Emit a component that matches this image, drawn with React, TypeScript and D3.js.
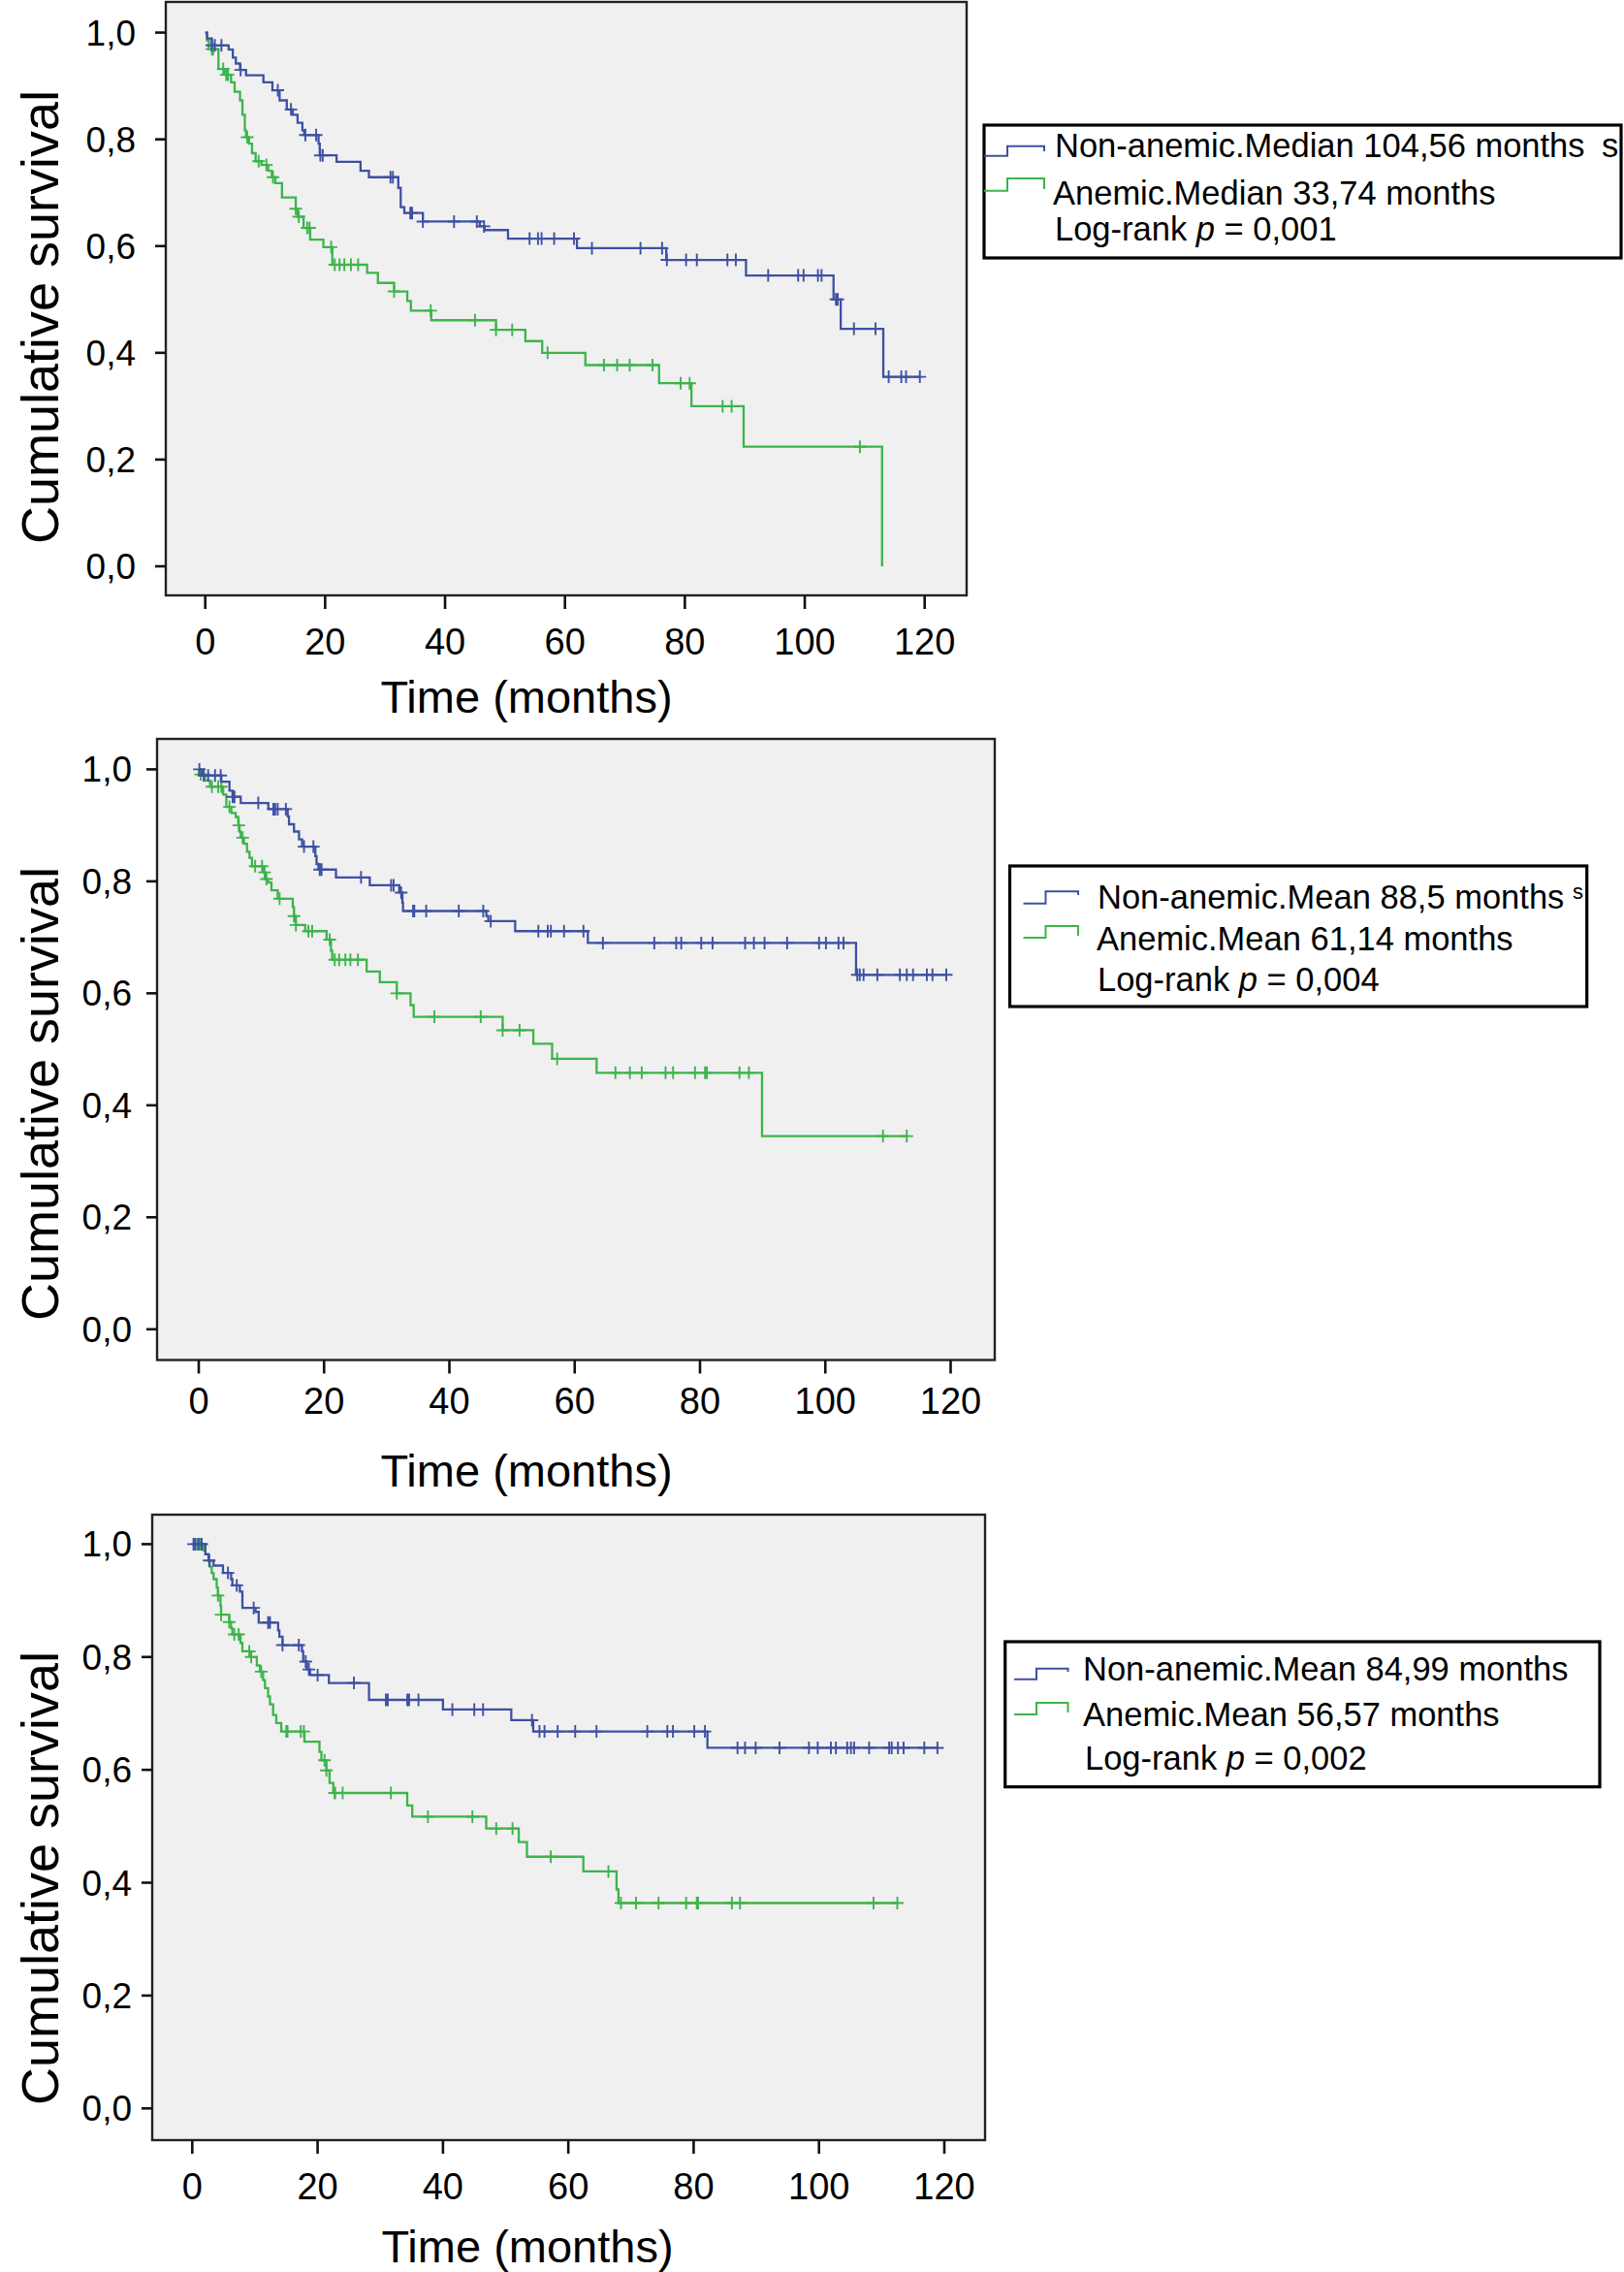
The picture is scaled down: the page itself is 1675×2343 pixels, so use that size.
import React from 'react';
import * as d3 from 'd3';

// ---------- shared axis data ----------
const xTicks = [0, 20, 40, 60, 80, 100, 120];
const yTicks = [0, 0.2, 0.4, 0.6, 0.8, 1.0];
const yTickLabels = ['0,0', '0,2', '0,4', '0,6', '0,8', '1,0'];
const xTitle = 'Time (months)';
const yTitle = 'Cumulative survival';

// ---------- panel 1 ----------
const p1BlueT = [0.3, 1.1, 3.9, 4.6, 5.1, 5.8, 6.8, 9.7, 11.2, 12.4, 13.6, 14.6, 15.4, 16.2, 16.5, 18.9, 19.1, 21.9, 25.9, 27.3, 32.2, 32.6, 33.2, 36.3, 45.8, 46.6, 50.5, 62.0, 76.9, 90.2, 104.8, 106.0, 113.1];
const p1BlueS = [0.989, 0.976, 0.968, 0.953, 0.942, 0.930, 0.920, 0.907, 0.892, 0.873, 0.856, 0.846, 0.831, 0.817, 0.808, 0.792, 0.770, 0.758, 0.741, 0.729, 0.709, 0.673, 0.662, 0.646, 0.637, 0.630, 0.614, 0.596, 0.574, 0.545, 0.500, 0.445, 0.355];
const p1BlueC = [1.1, 1.6, 2.7, 5.9, 12.1, 14.3, 16.7, 18.5, 19.2, 19.6, 30.9, 31.3, 34.2, 34.5, 36.3, 41.5, 45.3, 46.5, 54.1, 55.5, 56.1, 58.2, 61.5, 64.5, 72.6, 76.2, 77.0, 80.2, 82.0, 87.1, 88.5, 93.9, 98.9, 99.8, 102.2, 102.8, 105.2, 105.5, 108.2, 111.8, 114.0, 116.1, 116.9, 119.2];
const p1GreenT = [0.3, 0.6, 2.2, 3.2, 4.3, 4.9, 5.8, 6.2, 6.6, 6.8, 7.3, 7.8, 8.4, 9.4, 10.5, 11.1, 11.7, 12.8, 15.1, 15.4, 16.4, 17.5, 19.7, 21.2, 27.0, 28.8, 31.5, 33.7, 34.3, 37.7, 48.5, 53.4, 56.2, 63.4, 75.7, 81.1, 89.8, 112.9];
const p1GreenS = [0.985, 0.969, 0.932, 0.921, 0.907, 0.889, 0.873, 0.846, 0.817, 0.804, 0.792, 0.774, 0.759, 0.752, 0.741, 0.729, 0.718, 0.691, 0.670, 0.655, 0.634, 0.612, 0.598, 0.565, 0.550, 0.531, 0.515, 0.497, 0.479, 0.461, 0.443, 0.422, 0.400, 0.377, 0.343, 0.300, 0.224, 0.0];
const p1GreenC = [1.1, 1.3, 3.0, 3.5, 3.8, 7.0, 8.9, 10.2, 11.3, 15.1, 15.6, 17.0, 17.4, 21.0, 21.6, 22.4, 23.2, 24.3, 25.5, 31.5, 37.6, 45.0, 48.5, 51.2, 57.1, 66.5, 68.7, 70.8, 74.6, 79.3, 80.8, 86.3, 87.8, 109.2];
const p1Legend = ['Non-anemic.Median 104,56 months', 'Anemic.Median 33,74 months', '0,001'];

// ---------- panel 2 ----------
const p2BlueT = [0.5, 3.6, 4.9, 5.4, 6.7, 11.1, 14.2, 14.4, 15.2, 16.0, 16.5, 18.6, 18.8, 19.1, 21.9, 27.3, 32.0, 32.5, 32.6, 45.9, 46.2, 50.5, 62.1, 104.9];
const p2BlueS = [0.989, 0.978, 0.962, 0.951, 0.940, 0.929, 0.916, 0.902, 0.889, 0.875, 0.862, 0.845, 0.831, 0.821, 0.807, 0.793, 0.780, 0.762, 0.747, 0.738, 0.729, 0.711, 0.690, 0.633];
const p2BlueC = [0.1, 0.8, 1.5, 2.6, 3.5, 5.4, 5.7, 9.5, 11.9, 12.2, 12.6, 13.9, 16.8, 18.3, 19.3, 19.6, 25.9, 30.7, 31.1, 32.3, 34.2, 34.4, 36.3, 41.5, 45.4, 46.6, 54.2, 55.7, 56.2, 58.3, 61.4, 64.5, 72.7, 76.2, 77.0, 80.2, 82.0, 87.2, 88.6, 90.3, 93.9, 99.0, 100.1, 102.1, 102.9, 105.1, 105.5, 106.1, 108.3, 111.9, 113.0, 114.0, 116.2, 117.1, 119.3];
const p2GreenT = [0.05, 1.0, 1.8, 3.9, 4.4, 5.2, 5.9, 6.3, 6.5, 6.7, 7.2, 7.7, 8.1, 8.5, 10.3, 10.6, 11.1, 11.6, 12.6, 15.0, 15.2, 15.5, 17.0, 20.4, 21.1, 21.3, 26.8, 28.9, 31.6, 33.8, 34.3, 48.5, 53.4, 56.4, 63.5, 89.9];
const p2GreenS = [0.991, 0.980, 0.969, 0.955, 0.933, 0.922, 0.915, 0.900, 0.889, 0.878, 0.867, 0.853, 0.842, 0.827, 0.816, 0.804, 0.798, 0.784, 0.769, 0.754, 0.738, 0.722, 0.711, 0.696, 0.676, 0.660, 0.639, 0.620, 0.600, 0.579, 0.558, 0.534, 0.510, 0.483, 0.458, 0.345];
const p2GreenC = [0.3, 0.8, 2.1, 3.1, 3.6, 4.9, 6.4, 7.0, 9.0, 10.1, 10.5, 10.8, 12.9, 15.2, 15.5, 17.5, 18.1, 20.9, 21.7, 22.4, 23.4, 24.2, 25.4, 31.6, 37.6, 45.0, 48.5, 51.2, 57.2, 66.5, 68.8, 70.7, 74.5, 75.7, 79.2, 80.8, 81.1, 86.3, 87.8, 109.2, 113.0];
const p2Legend = ['Non-anemic.Mean 88,5 months', 'Anemic.Mean 61,14 months', '0,004'];

// ---------- panel 3 ----------
const p3BlueT = [2.1, 2.6, 3.4, 4.9, 6.2, 6.4, 7.6, 8.0, 10.1, 10.6, 13.7, 13.9, 14.4, 17.5, 17.7, 18.3, 18.8, 21.8, 28.2, 40.0, 50.9, 54.4, 82.2];
const p3BlueS = [0.982, 0.971, 0.962, 0.949, 0.938, 0.927, 0.916, 0.887, 0.880, 0.861, 0.847, 0.836, 0.821, 0.810, 0.792, 0.778, 0.768, 0.754, 0.724, 0.707, 0.688, 0.668, 0.639];
const p3BlueC = [0.2, 0.5, 1.0, 1.5, 2.7, 5.7, 7.1, 9.8, 12.1, 12.4, 14.4, 17.0, 18.1, 18.6, 20.0, 25.8, 30.9, 31.2, 34.3, 34.6, 36.1, 41.5, 45.0, 46.4, 54.2, 55.4, 56.2, 58.3, 61.1, 64.5, 72.6, 75.8, 76.7, 80.1, 81.8, 87.0, 88.2, 89.9, 93.7, 98.4, 99.8, 101.9, 102.7, 104.5, 105.1, 105.6, 108.0, 111.2, 111.6, 112.6, 113.5, 116.8, 118.9];
const p3GreenT = [1.8, 2.1, 2.6, 2.8, 3.1, 3.4, 3.9, 4.1, 4.5, 4.6, 5.9, 6.2, 6.4, 7.7, 8.0, 9.3, 10.3, 10.8, 11.3, 11.6, 12.1, 12.4, 12.9, 13.4, 14.2, 17.9, 20.3, 20.6, 21.4, 21.9, 22.5, 34.3, 35.1, 46.9, 52.1, 53.4, 62.4, 67.7, 68.0];
const p3GreenS = [0.989, 0.982, 0.971, 0.960, 0.949, 0.938, 0.923, 0.909, 0.891, 0.875, 0.862, 0.851, 0.840, 0.825, 0.810, 0.800, 0.785, 0.774, 0.759, 0.745, 0.730, 0.716, 0.697, 0.683, 0.668, 0.650, 0.632, 0.617, 0.599, 0.577, 0.559, 0.537, 0.517, 0.496, 0.472, 0.446, 0.420, 0.388, 0.364];
const p3GreenC = [0.8, 1.0, 1.3, 1.5, 4.1, 4.6, 5.9, 6.7, 7.4, 9.1, 9.4, 11.0, 15.0, 15.2, 17.3, 17.8, 21.1, 21.4, 22.7, 22.8, 24.0, 31.7, 37.6, 44.7, 48.5, 51.1, 57.2, 66.4, 68.4, 70.8, 74.4, 78.8, 80.5, 80.7, 86.1, 87.4, 108.7, 112.5];
const p3Legend = ['Non-anemic.Mean 84,99 months', 'Anemic.Mean 56,57 months', '0,002'];

// ---------- styling / layout ----------
const BLUE = '#3e50a2';
const GREEN = '#3cb44b';
const FONT = '"Liberation Sans", Arial, Helvetica, sans-serif';

type Layout = {
  l: number; t: number; r: number; b: number;
  x0: number; x120: number; yOne: number; yZero: number;
  yLabRight: number; xLabBase: number; xTitleX: number; xTitleBase: number; yTitleX: number; yTitleY: number;
  box: [number, number, number, number];
  textX: [number, number, number];
  base: [number, number, number];
  symX: [number, number, number];
  blueSym: [number, number, number];
  greenSym: [number, number, number];
};

const layouts: Layout[] = [
  {
    l: 171, t: 2, r: 997, b: 614, x0: 211.7, x120: 953.7, yOne: 33.6, yZero: 584,
    yLabRight: 140, xLabBase: 675, xTitleX: 543, xTitleBase: 735, yTitleX: 60, yTitleY: 327,
    box: [1015, 129, 1672, 266], textX: [1088, 1086, 1088], base: [162, 211, 248],
    symX: [1015, 1039, 1077], blueSym: [160.7, 150.7, 156], greenSym: [196.7, 184, 195],
  },
  {
    l: 162, t: 762, r: 1026, b: 1402.5, x0: 205, x120: 980.5, yOne: 793.4, yZero: 1370.8,
    yLabRight: 136, xLabBase: 1458, xTitleX: 543, xTitleBase: 1533, yTitleX: 60, yTitleY: 1128,
    box: [1041.5, 893, 1636.7, 1038], textX: [1132, 1131, 1132], base: [937, 980, 1022],
    symX: [1055.5, 1078.5, 1112], blueSym: [931.7, 919.3, 923], greenSym: [967, 955, 965],
  },
  {
    l: 157, t: 1562, r: 1016, b: 2207, x0: 198.3, x120: 974, yOne: 1592.4, yZero: 2174.3,
    yLabRight: 136, xLabBase: 2268, xTitleX: 544, xTitleBase: 2333, yTitleX: 60, yTitleY: 1937,
    box: [1036.7, 1693, 1650, 1842.7], textX: [1117, 1117, 1119], base: [1733, 1780, 1825],
    symX: [1046, 1069, 1101.5], blueSym: [1731.7, 1720.7, 1724], greenSym: [1768, 1756, 1766],
  },
];

type Series = { T: number[]; S: number[]; C: number[] };
const panels: { blue: Series; green: Series; legend: string[] }[] = [
  { blue: { T: p1BlueT, S: p1BlueS, C: p1BlueC }, green: { T: p1GreenT, S: p1GreenS, C: p1GreenC }, legend: p1Legend },
  { blue: { T: p2BlueT, S: p2BlueS, C: p2BlueC }, green: { T: p2GreenT, S: p2GreenS, C: p2GreenC }, legend: p2Legend },
  { blue: { T: p3BlueT, S: p3BlueS, C: p3BlueC }, green: { T: p3GreenT, S: p3GreenS, C: p3GreenC }, legend: p3Legend },
];

function survAt(s: Series, t: number) {
  let v = 1;
  for (let i = 0; i < s.T.length; i++) if (s.T[i] <= t) v = s.S[i];
  return v;
}

function stepPoints(s: Series): [number, number][] {
  const pts: [number, number][] = [[0, 1]];
  s.T.forEach((t, i) => pts.push([t, s.S[i]]));
  const lastT = s.T[s.T.length - 1];
  const lastC = s.C[s.C.length - 1];
  if (lastC > lastT) pts.push([lastC, s.S[s.S.length - 1]]);
  return pts;
}

function Curve({ s, color, x, y }: { s: Series; color: string; x: d3.ScaleLinear<number, number>; y: d3.ScaleLinear<number, number> }) {
  const line = d3.line<[number, number]>().x(d => x(d[0])).y(d => y(d[1])).curve(d3.curveStepAfter);
  const h = 6.5;
  const marks = s.C.map(c => {
    const cx = x(c);
    const cy = y(survAt(s, c));
    return `M${cx},${cy - h}V${cy + h}M${cx - h},${cy}H${cx + h}`;
  }).join('');
  return (
    <g>
      <path d={line(stepPoints(s)) || ''} fill="none" stroke={color} strokeWidth={2.3} />
      <path d={marks} fill="none" stroke={color} strokeWidth={1.9} />
    </g>
  );
}

function Panel({ L, p }: { L: Layout; p: (typeof panels)[number] }) {
  const x = d3.scaleLinear().domain([0, 120]).range([L.x0, L.x120]);
  const y = d3.scaleLinear().domain([0, 1]).range([L.yZero, L.yOne]);
  const [bx0, by0, bx1, by1] = L.box;
  const sym = (ys: [number, number, number]) =>
    `M${L.symX[0]},${ys[0]}H${L.symX[1]}V${ys[1]}H${L.symX[2]}V${ys[2]}`;
  return (
    <g fontFamily={FONT} fill="#000">
      <rect x={L.l} y={L.t} width={L.r - L.l} height={L.b - L.t} fill="#f0f0f0" stroke="#222" strokeWidth={2.4} />
      {xTicks.map(v => (
        <g key={'x' + v}>
          <line x1={x(v)} x2={x(v)} y1={L.b} y2={L.b + 14} stroke="#111" strokeWidth={2.6} />
          <text x={x(v)} y={L.xLabBase} fontSize={38} textAnchor="middle">{v}</text>
        </g>
      ))}
      {yTicks.map((v, i) => (
        <g key={'y' + v}>
          <line x1={L.l - 11} x2={L.l} y1={y(v)} y2={y(v)} stroke="#111" strokeWidth={2.6} />
          <text x={L.yLabRight} y={y(v) + 13} fontSize={37} textAnchor="end">{yTickLabels[i]}</text>
        </g>
      ))}
      <text x={L.xTitleX} y={L.xTitleBase} fontSize={47} textAnchor="middle">{xTitle}</text>
      <text transform={`translate(${L.yTitleX},${L.yTitleY}) rotate(-90)`} fontSize={54} textAnchor="middle">{yTitle}</text>
      <Curve s={p.green} color={GREEN} x={x} y={y} />
      <Curve s={p.blue} color={BLUE} x={x} y={y} />
      <rect x={bx0} y={by0} width={bx1 - bx0} height={by1 - by0} fill="#fff" stroke="#000" strokeWidth={3.2} />
      <path d={sym(L.blueSym)} fill="none" stroke={BLUE} strokeWidth={2} />
      <path d={sym(L.greenSym)} fill="none" stroke={GREEN} strokeWidth={2} />
      <text x={L.textX[0]} y={L.base[0]} fontSize={34.5}>{p.legend[0]}</text>
      <text x={L.textX[1]} y={L.base[1]} fontSize={34.5}>{p.legend[1]}</text>
      <text x={L.textX[2]} y={L.base[2]} fontSize={34.5}>
        Log-rank <tspan fontStyle="italic">p</tspan> = {p.legend[2]}
      </text>
    </g>
  );
}

export default function App() {
  const L1 = layouts[0];
  const L2 = layouts[1];
  return (
    <svg width={1675} height={2343} viewBox="0 0 1675 2343" style={{ position: 'absolute', left: 0, top: 0, background: '#fff' }}>
      <rect x={0} y={0} width={1675} height={2343} fill="#fff" />
      {layouts.map((L, i) => <Panel key={i} L={L} p={panels[i]} />)}
      {/* clipped leftover glyphs seen in the original figure */}
      <text x={1652} y={L1.base[0]} fontSize={34.5} fontFamily={FONT}>s</text>
      <text x={1622} y={L2.base[0] - 10} fontSize={22} fontFamily={FONT}>s</text>
    </svg>
  );
}
